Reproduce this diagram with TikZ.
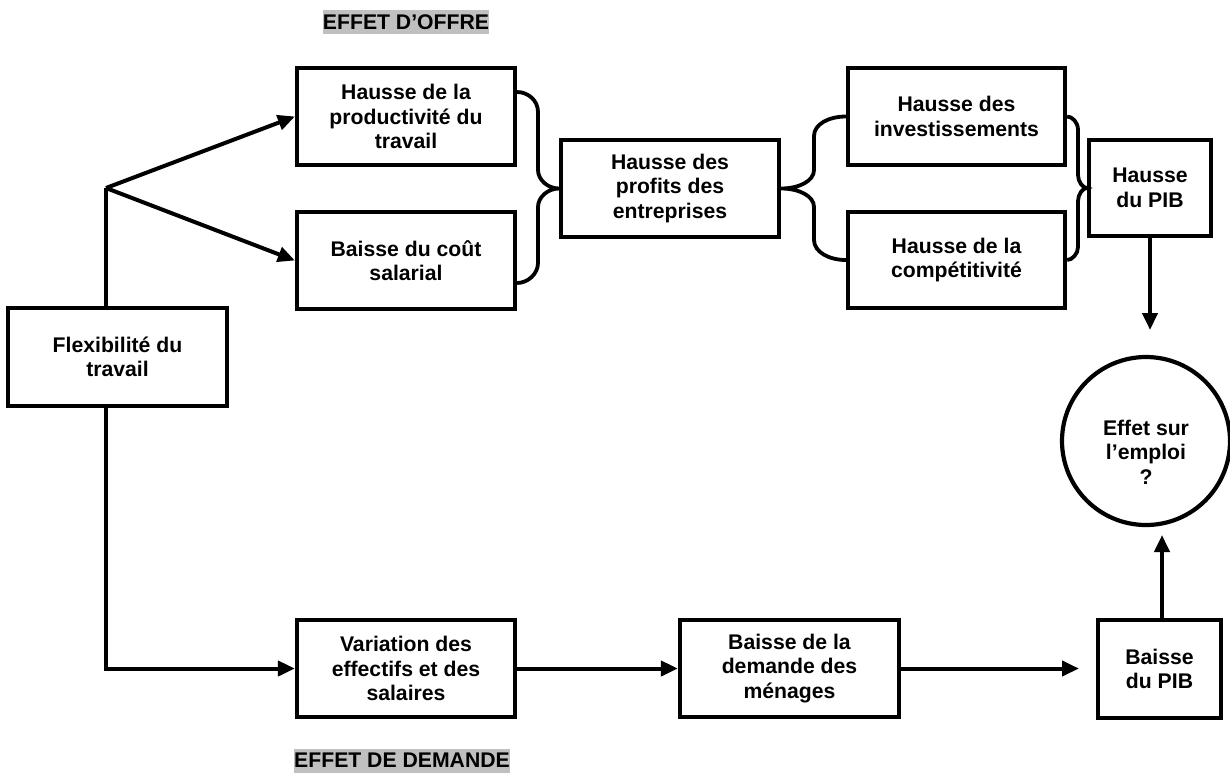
\documentclass[tikz,border=0pt]{standalone}
\usepackage{fontspec}
\setmainfont{Liberation Sans}
\usetikzlibrary{arrows.meta,calc}
\definecolor{hl}{HTML}{C0C0C0}
\begin{document}
\begin{tikzpicture}[x=1pt,y=-1pt,
  every node/.style={font=\fontsize{21.2}{24.5}\selectfont\bfseries, align=center},
  boxn/.style={draw, line width=4.2pt, inner sep=0pt},
  circn/.style={draw, circle, line width=4.2pt, minimum size=168pt, inner sep=0pt},
  tag/.style={fill=hl, inner sep=0pt, minimum height=24pt},
  arr/.style={line width=4pt, -{Triangle[length=17pt,width=15pt]}},
  ln/.style={line width=4pt},
  brc/.style={line width=3.8pt}]
\useasboundingbox (0,0) rectangle (1230,772);
% boxes
\node[boxn, minimum width=218pt, minimum height=97pt] (b1) at (406,116.5) {Hausse de la\\productivité du\\travail};
\node[boxn, minimum width=218pt, minimum height=97pt] (b2) at (406,260.5) {Baisse du coût\\salarial};
\node[boxn, minimum width=219pt, minimum height=98pt] (flex) at (117.5,357) {Flexibilité du\\travail};
\node[boxn, minimum width=218pt, minimum height=97pt] (prof) at (670,188.5) {Hausse des\\profits des\\entreprises};
\node[boxn, minimum width=217pt, minimum height=97pt] (inv) at (956.5,116.5) {Hausse des\\investissements};
\node[boxn, minimum width=217pt, minimum height=96pt] (comp) at (956.5,260) {Hausse de la\\compétitivité};
\node[boxn, minimum width=122pt, minimum height=96pt] (hpib) at (1150,188) {Hausse\\du PIB};
\node[boxn, minimum width=218pt, minimum height=97pt] (var) at (406,668.5) {Variation des\\effectifs et des\\salaires};
\node[boxn, minimum width=219pt, minimum height=97pt] (dem) at (789.5,668.5) {Baisse de la\\demande des\\ménages};
\node[boxn, minimum width=123pt, minimum height=98pt] (bpib) at (1159.5,669) {Baisse\\du PIB};
\node[circn] (emploi) at (1146,441) {};
\node (emploitxt) at (1146,452) {Effet sur\\l’emploi\\?};
% labels
\node[tag] (offre) at (406,22) {EFFET D’OFFRE};
\node[tag] (demande) at (402,760.5) {EFFET DE DEMANDE};
% connectors
\coordinate (br) at (106,188);
\coordinate (cor) at (106,668.5);
\coordinate (tc) at (1079,668.5);
\coordinate (ta) at (1150,330);
\coordinate (tb) at (1162,535);
\draw[ln] (flex.north -| br) -- (br);
\draw[arr] (br) -- (b1.west);
\draw[arr] (br) -- (b2.west);
\draw[arr] (flex.south -| cor) -- (cor) -- (var.west);
\draw[arr] (var.east) -- (dem.west);
\draw[arr] (dem.east) -- (tc);
\draw[arr] (hpib.south) -- (hpib.south |- ta);
\draw[arr] (bpib.north -| tb) -- (tb);
% braces
\draw[brc] ([yshift=24.5pt]b1.east) .. controls (527.6,92) and (538,100) .. (538,112) -- (538,170)
  .. controls (538,180) and (548,188.5) .. (prof.west) .. controls (548,188.5) and (538,197) .. (538,207) -- (538,263)
  .. controls (538,274) and (527.6,283) .. ([yshift=-22.5pt]b2.east);
\draw[brc] (inv.west) .. controls (829,116.5) and (814,124) .. (814,136) -- (814,170)
  .. controls (814,181) and (799,188.5) .. (prof.east) .. controls (799,188.5) and (814,196) .. (814,207) -- (814,240)
  .. controls (814,252) and (829,260) .. (comp.west);
\draw[brc] (inv.east) .. controls (1072,116.5) and (1078,122) .. (1078,130) -- (1078,175)
  .. controls (1078,182) and (1083,188) .. (hpib.west) .. controls (1083,188) and (1078,194) .. (1078,201) -- (1078,247)
  .. controls (1078,254) and (1072,260) .. (comp.east);
\end{tikzpicture}
\end{document}
